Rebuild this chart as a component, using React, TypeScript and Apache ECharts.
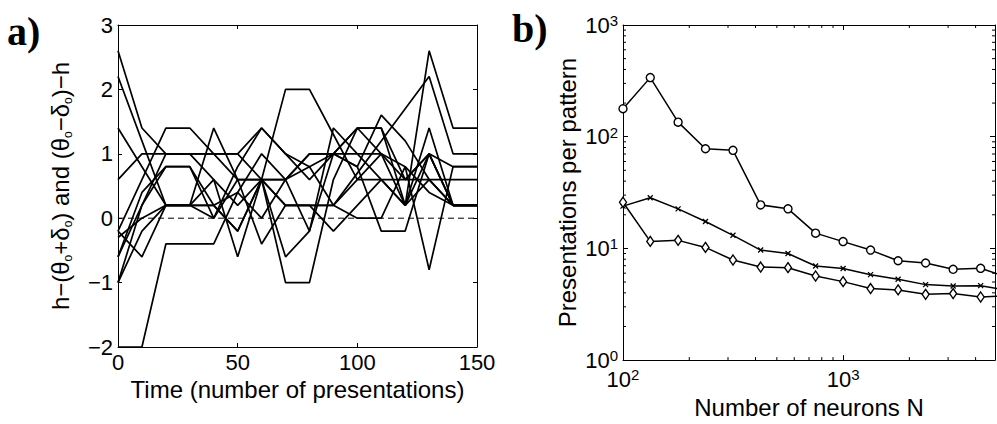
import React, { useEffect, useRef } from "react";
import * as echarts from "echarts";

// ---------- Panel a data ----------
const timeSteps = [0, 10, 20, 30, 40, 50, 60, 70, 80, 90, 100, 110, 120, 130, 140, 150];
const trace01 = [2.6, 1.4, 1.0, 1.0, 1.0, 1.0, 1.4, 1.0, 0.6, 1.0, 1.4, 1.4, 0.2, 2.6, 1.4, 1.4];
const trace02 = [2.2, 1.2, 0.2, 0.2, 0.2, -0.2, 0.6, 0.2, 0.2, 0.2, 0.7, 1.2, 1.7, 2.2, 1.0, 1.0];
const trace03 = [1.4, 0.8, 0.2, 0.2, 1.4, 0.6, 0.6, 0.6, 1.0, 1.0, 1.0, 1.0, 0.6, 1.0, 0.8, 0.8];
const trace04 = [0.6, 1.0, 1.0, 1.0, 1.0, 1.0, 0.6, 0.6, 0.8, 0.2, 0.6, 0.6, 0.6, 0.6, 0.6, 0.6];
const trace05 = [-0.2, -0.6, 0.2, 0.2, 0.2, 0.4, 0.0, 0.6, -0.2, 1.4, 1.0, 0.6, 0.2, 1.4, 0.2, 0.2];
const trace06 = [-0.2, 0.6, 1.4, 1.4, 1.0, 0.6, 0.6, 0.2, 0.2, 0.2, 0.0, 0.0, 0.8, 0.4, 0.2, 0.2];
const trace07 = [-0.6, 0.4, 0.8, 0.8, 0.2, -0.2, 0.6, -0.6, -0.2, 1.0, 0.8, 1.6, 1.2, 0.6, 0.2, 0.2];
const trace08 = [-1.0, 0.2, 1.0, 1.0, 0.6, 0.2, 0.6, 2.0, 2.0, 1.3, 0.6, 1.0, 0.8, -0.8, 0.8, 0.8];
const trace09 = [-2.0, -2.0, -0.4, -0.4, -0.4, 0.4, 1.0, 0.6, 1.0, 1.0, 1.4, 1.4, 0.6, 1.0, 0.2, 0.2];
const trace10 = [-0.3, 0.0, 0.2, 0.2, 0.6, -0.6, 0.6, -1.0, -1.0, 0.6, 1.4, 1.0, 0.2, 1.0, 0.2, 0.2];
const trace11 = [-0.6, 0.2, 0.8, 0.8, 0.0, 0.8, 1.4, 1.0, 0.8, 1.0, 0.8, -0.2, -0.2, 1.0, 0.2, 0.2];
const trace12 = [-1.0, -0.2, 0.2, 0.2, 0.0, 0.6, -0.4, 0.2, 0.2, -0.2, 0.2, 0.6, 0.2, 0.6, 0.2, 0.2];
const tracesA = [trace01, trace02, trace03, trace04, trace05, trace06, trace07, trace08, trace09, trace10, trace11, trace12];
const zeroLineX = [0, 150];
const zeroLineY = [0, 0];

// ---------- Panel b data ----------
const neuronsN = [100, 133, 178, 237, 316, 422, 562, 750, 1000, 1333, 1778, 2371, 3162, 4217, 5623];
const circleValues = [178, 338, 135, 78, 75.5, 24.5, 22.6, 13.7, 11.5, 9.66, 7.75, 7.4, 6.5, 6.63, 5.5];
const crossValues = [23.9, 28.4, 22.6, 17.4, 13.1, 9.66, 9.0, 6.95, 6.6, 5.82, 5.29, 4.74, 4.61, 4.64, 4.2];
const diamondValues = [25.9, 11.55, 11.8, 10.2, 7.87, 6.81, 6.72, 5.66, 5.04, 4.37, 4.25, 3.88, 3.94, 3.67, 3.77];
const minorTicksX = [200, 300, 400, 500, 600, 700, 800, 900, 2000, 3000, 4000];
const minorTicksY = [2, 3, 4, 5, 6, 7, 8, 9, 20, 30, 40, 50, 60, 70, 80, 90, 200, 300, 400, 500, 600, 700, 800, 900];

const FONT = '"Liberation Sans", Arial, Helvetica, sans-serif';
const BLACK = "#000";

export default function App() {
  const ref = useRef<HTMLDivElement>(null);

  useEffect(() => {
    if (!ref.current) return;
    const chart = echarts.init(ref.current, null, { renderer: "svg" });

    const axisLine = { show: true, onZero: false, lineStyle: { color: BLACK, width: 1 } };
    const tickA = { show: true, inside: true, length: 4, lineStyle: { color: BLACK, width: 1 } };
    const tickB = { show: true, inside: true, length: 5, lineStyle: { color: BLACK, width: 1 } };
    const labelStyle = { color: BLACK, fontSize: 22, fontFamily: FONT };
    const nameStyle = { color: BLACK, fontSize: 24, fontFamily: FONT };
    const powRich = {
      b: { color: BLACK, fontSize: 22, fontFamily: FONT, lineHeight: 24 },
      s: { color: BLACK, fontSize: 15, fontFamily: FONT, lineHeight: 15, verticalAlign: "top" },
    };
    const isPow = (v: number) => {
      const e = Math.log10(v);
      return Math.abs(e - Math.round(e)) < 1e-6;
    };
    const powFormatter = (v: number) => (isPow(v) ? `{b|10}{s|${Math.round(Math.log10(v))}}` : "");

    const lineSeriesA = tracesA.map((tr, i) => ({
      type: "line",
      name: `trace${i + 1}`,
      xAxisIndex: 0,
      yAxisIndex: 0,
      data: timeSteps.map((t, k) => [t, tr[k]]),
      symbol: "none",
      lineStyle: { color: BLACK, width: 1.7 },
      z: 3,
    }));

    const minorTickStyle = { stroke: BLACK, lineWidth: 1 };
    const mk = (x1: number, y1: number, x2: number, y2: number) => ({
      type: "line",
      shape: { x1, y1, x2, y2 },
      style: minorTickStyle,
    });

    const option: any = {
      animation: false,
      backgroundColor: "#fff",
      textStyle: { fontFamily: FONT },
      grid: [
        { left: 118, top: 25, width: 359, height: 322, containLabel: false },
        { left: 623, top: 25, width: 372, height: 336, containLabel: false },
      ],
      xAxis: [
        {
          gridIndex: 0, type: "value", min: 0, max: 150, interval: 50, position: "bottom",
          axisLine, axisTick: tickA, splitLine: { show: false },
          axisLabel: { ...labelStyle, margin: 4 },
          name: "Time (number of presentations)", nameLocation: "middle", nameGap: 28,
          nameTextStyle: nameStyle,
        },
        {
          gridIndex: 0, type: "value", min: 0, max: 150, interval: 50, position: "top",
          axisLine, axisTick: tickA, splitLine: { show: false }, axisLabel: { show: false },
        },
        {
          gridIndex: 1, type: "log", logBase: 10, min: 100, max: 4900, position: "bottom",
          axisLine, axisTick: tickB, splitLine: { show: false },
          axisLabel: { formatter: powFormatter, rich: powRich, margin: 7, showMaxLabel: false },
          name: "Number of neurons N", nameLocation: "middle", nameGap: 33,
          nameTextStyle: nameStyle,
        },
        {
          gridIndex: 1, type: "log", logBase: 10, min: 100, max: 4900, position: "top",
          axisLine, axisTick: tickB, splitLine: { show: false }, axisLabel: { show: false },
        },
      ],
      yAxis: [
        {
          gridIndex: 0, type: "value", min: -2, max: 3, interval: 1, position: "left",
          axisLine, axisTick: tickA, splitLine: { show: false },
          axisLabel: { ...labelStyle, margin: 5, formatter: (v: number) => (v < 0 ? "\u2212" + Math.abs(v) : String(v)) },
          name: "{n|h\u2212(\u03b8}{s|o}{n|+\u03b4}{s|o}{n|) and (\u03b8}{s|o}{n|\u2212\u03b4}{s|o}{n|)\u2212h}",
          nameLocation: "middle", nameGap: 44, nameRotate: 90,
          nameTextStyle: {
            rich: {
              n: { color: BLACK, fontSize: 24, fontFamily: FONT, lineHeight: 28 },
              s: { color: BLACK, fontSize: 12, fontFamily: FONT, lineHeight: 12, verticalAlign: "bottom" },
            },
          },
        },
        {
          gridIndex: 0, type: "value", min: -2, max: 3, interval: 1, position: "right",
          axisLine, axisTick: tickA, splitLine: { show: false }, axisLabel: { show: false },
        },
        {
          gridIndex: 1, type: "log", logBase: 10, min: 1, max: 1000, position: "left",
          axisLine, axisTick: tickB, splitLine: { show: false },
          axisLabel: { formatter: powFormatter, rich: powRich, margin: 5 },
          name: "Presentations per pattern", nameLocation: "middle", nameGap: 44, nameRotate: 90,
          nameTextStyle: nameStyle,
        },
        {
          gridIndex: 1, type: "log", logBase: 10, min: 1, max: 1000, position: "right",
          axisLine, axisTick: tickB, splitLine: { show: false }, axisLabel: { show: false },
        },
      ],
      graphic: [
        { type: "text", left: 7, top: 11, style: { text: "a)", font: 'bold 40px "Liberation Serif", serif', fill: BLACK } },
        { type: "text", left: 512, top: 8, style: { text: "b)", font: 'bold 40px "Liberation Serif", serif', fill: BLACK } },
      ],
      series: [
        ...lineSeriesA,
        {
          type: "line", name: "zero", xAxisIndex: 0, yAxisIndex: 0,
          data: zeroLineX.map((x, k) => [x, zeroLineY[k]]),
          symbol: "none", lineStyle: { color: BLACK, width: 1, type: [6, 4] }, z: 2,
        },
        {
          type: "line", name: "circles", xAxisIndex: 2, yAxisIndex: 2, clip: true,
          data: neuronsN.map((n, k) => [n, circleValues[k]]),
          symbol: "circle", symbolSize: 8,
          lineStyle: { color: BLACK, width: 1.5 },
          itemStyle: { color: "#fff", borderColor: BLACK, borderWidth: 1.4 },
          z: 4,
        },
        {
          type: "line", name: "crosses", xAxisIndex: 2, yAxisIndex: 2, clip: true,
          data: neuronsN.map((n, k) => [n, crossValues[k]]),
          symbol: "path://M0,0L10,10M10,0L0,10", symbolSize: 5,
          lineStyle: { color: BLACK, width: 1.5 },
          itemStyle: { color: BLACK, borderColor: BLACK, borderWidth: 1.3 },
          z: 4,
        },
        {
          type: "line", name: "diamonds", xAxisIndex: 2, yAxisIndex: 2, clip: true,
          data: neuronsN.map((n, k) => [n, diamondValues[k]]),
          symbol: "diamond", symbolSize: [7, 10],
          lineStyle: { color: BLACK, width: 1.5 },
          itemStyle: { color: "#fff", borderColor: BLACK, borderWidth: 1.4 },
          z: 4,
        },
        {
          type: "custom", name: "minorX", xAxisIndex: 2, yAxisIndex: 2, silent: true,
          data: minorTicksX.map((v) => [v, 1]),
          encode: { x: 0, y: 1 },
          renderItem: (params: any, api: any) => {
            const v = api.value(0);
            const b = api.coord([v, 1]);
            const t = api.coord([v, 1000]);
            return { type: "group", children: [mk(b[0], b[1], b[0], b[1] - 3), mk(t[0], t[1], t[0], t[1] + 3)] };
          },
          z: 5,
        },
        {
          type: "custom", name: "minorY", xAxisIndex: 2, yAxisIndex: 2, silent: true,
          data: minorTicksY.map((v) => [100, v]),
          encode: { x: 0, y: 1 },
          renderItem: (params: any, api: any) => {
            const v = api.value(1);
            const l = api.coord([100, v]);
            const r = api.coord([4900, v]);
            return { type: "group", children: [mk(l[0], l[1], l[0] + 3, l[1]), mk(r[0], r[1], r[0] - 3, r[1])] };
          },
          z: 5,
        },
      ],
    };

    chart.setOption(option);
    return () => chart.dispose();
  }, []);

  return (
    <div
      ref={ref}
      style={{ position: "absolute", left: 0, top: 0, width: 997, height: 424, background: "#fff" }}
    />
  );
}
